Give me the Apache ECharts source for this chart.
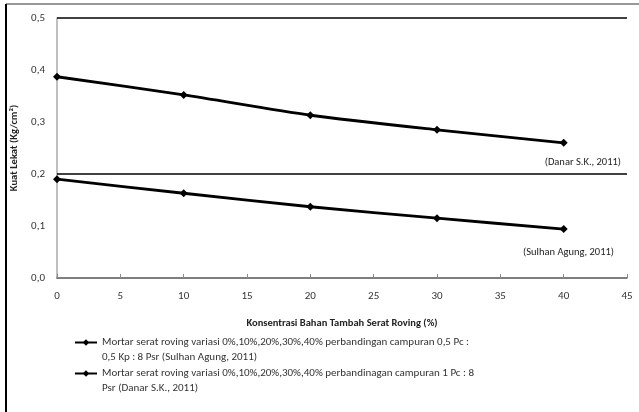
<!DOCTYPE html>
<html><head><meta charset="utf-8">
<script src="https://cdn.jsdelivr.net/npm/echarts@6/dist/echarts.min.js"></script>
<style>html,body{margin:0;padding:0;background:#fff}#c{width:639px;height:412px}</style>
</head><body><div id="c"></div>
<script>
const xValues = [0, 10, 20, 30, 40];
const sulhan = [0.19, 0.163, 0.137, 0.115, 0.094];
const danar = [0.387, 0.352, 0.313, 0.285, 0.26];
const refLines = [0.2, 0.5];
const seriesNames = [
  'Mortar serat roving variasi 0%,10%,20%,30%,40% perbandingan campuran 0,5 Pc : 0,5 Kp : 8 Psr (Sulhan Agung, 2011)',
  'Mortar serat roving variasi 0%,10%,20%,30%,40% perbandinagan campuran 1 Pc : 8 Psr (Danar S.K., 2011)'
];
const legendLines = {
  [seriesNames[0]]: ['Mortar serat roving variasi 0%,10%,20%,30%,40% perbandingan campuran 0,5 Pc :', '0,5 Kp : 8 Psr (Sulhan Agung, 2011)'],
  [seriesNames[1]]: ['Mortar serat roving variasi 0%,10%,20%,30%,40% perbandinagan campuran 1 Pc : 8', 'Psr (Danar S.K., 2011)']
};
const annotations = ['(Danar S.K., 2011)', '(Sulhan Agung, 2011)'];
const FONT = 'Carlito, "Liberation Sans Narrow", Lato, sans-serif';

const chart = echarts.init(document.getElementById('c'));
const pair = arr => xValues.map((x, i) => [x, arr[i]]);
const lineSeries = (name, vals, withRefs) => ({
  name, type: 'line', data: pair(vals), smooth: 0.25,
  symbol: 'diamond', symbolSize: 8,
  lineStyle: { color: '#000', width: 2.8 },
  itemStyle: { color: '#000' },
  emphasis: { disabled: true },
  markLine: withRefs ? {
    silent: true, symbol: 'none', label: { show: false },
    lineStyle: { color: '#000', width: 1.5, type: 'solid' },
    data: refLines.map(v => ({ yAxis: v }))
  } : undefined
});
const legendFor = (i, top) => ({
  orient: 'vertical', left: 74, top, padding: 0, itemWidth: 22, itemHeight: 8,
  data: [seriesNames[i]],
  textStyle: { fontSize: 11, color: '#333', lineHeight: 15, fontFamily: FONT },
  formatter: n => '\n' + legendLines[n][0] + '\n' + legendLines[n][1]
});
chart.setOption({
  animation: false,
  textStyle: { fontFamily: FONT },
  grid: { left: 57, right: 12, top: 18, bottom: 134 },
  xAxis: {
    type: 'value', min: 0, max: 45, interval: 5,
    name: 'Konsentrasi Bahan Tambah Serat Roving (%)',
    nameLocation: 'middle', nameGap: 40,
    nameTextStyle: { fontSize: 10.5, fontWeight: 'bold', color: '#222', fontFamily: FONT },
    axisLine: { lineStyle: { color: '#555', width: 1.5 } },
    axisTick: { show: true, length: 4, inside: true, lineStyle: { color: '#888' } },
    axisLabel: { fontSize: 11, color: '#333', margin: 13, fontFamily: FONT },
    splitLine: { show: false }
  },
  yAxis: {
    type: 'value', min: 0, max: 0.5, interval: 0.1,
    name: 'Kuat Lekat (Kg/cm²)', nameLocation: 'middle', nameGap: 37,
    nameTextStyle: { fontSize: 10.5, fontWeight: 'bold', color: '#222', fontFamily: FONT },
    axisLine: { show: true, lineStyle: { color: '#aaa', width: 1.5 } },
    axisTick: { show: false },
    axisLabel: { fontSize: 11, color: '#333', margin: 12, fontFamily: FONT,
      formatter: v => v.toFixed(1).replace('.', ',') },
    splitLine: { show: false }
  },
  legend: [legendFor(0, 320), legendFor(1, 351)],
  graphic: [
    { type: 'line', shape: { x1: 6, y1: 4, x2: 639, y2: 4 }, style: { stroke: '#999', lineWidth: 2 } },
    { type: 'line', shape: { x1: 6, y1: 4, x2: 6, y2: 412 }, style: { stroke: '#000', lineWidth: 2 } },
    { type: 'text', right: 18, top: 157, style: { text: annotations[0], fontSize: 10.5, fill: '#222', fontFamily: FONT } },
    { type: 'text', right: 25, top: 247, style: { text: annotations[1], fontSize: 10.5, fill: '#222', fontFamily: FONT } }
  ],
  series: [lineSeries(seriesNames[0], sulhan, true), lineSeries(seriesNames[1], danar, false)]
});
</script></body></html>
